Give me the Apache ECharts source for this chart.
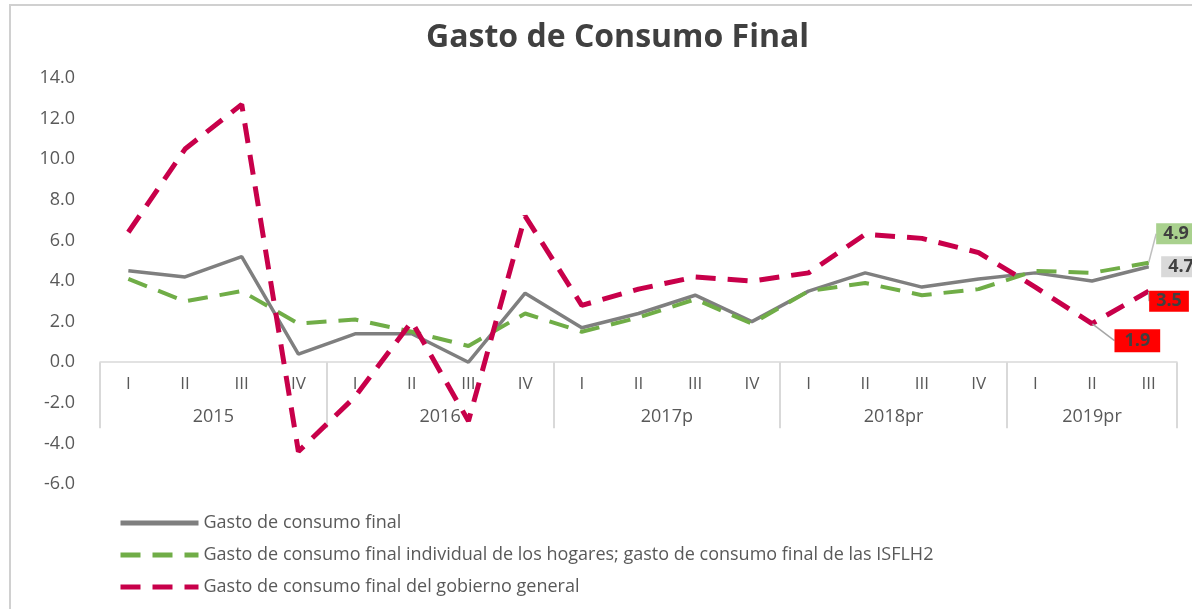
<!DOCTYPE html>
<html>
<head>
<meta charset="utf-8">
<title>Gasto de Consumo Final</title>
<script src="https://cdn.jsdelivr.net/npm/echarts@6/dist/echarts.min.js"></script>
<style>
    html, body { margin: 0; padding: 0; background: #fff; }
    #chart { width: 1192px; height: 609px; }
</style>
</head>
<body>
<div id="chart"></div>
<script>
// trimestres y años del eje
var quarters = ['I', 'II', 'III', 'IV', 'I', 'II', 'III', 'IV', 'I', 'II', 'III', 'IV',
    'I', 'II', 'III', 'IV', 'I', 'II', 'III'];
var years = ['2015', '2016', '2017p', '2018pr', '2019pr'];
var yearQuarters = [4, 4, 4, 4, 3];

var seriesNames = [
    'Gasto de consumo final',
    'Gasto de consumo final individual de los hogares; gasto de consumo final de las ISFLH2',
    'Gasto de consumo final del gobierno general'
];
// variación anual (%)
var gastoTotal = [4.5, 4.2, 5.2, 0.4, 1.4, 1.4, 0.0, 3.4, 1.7, 2.4, 3.3, 2.0, 3.5, 4.4, 3.7, 4.1, 4.4, 4.0, 4.7];
var gastoHogares = [4.1, 3.0, 3.5, 1.9, 2.1, 1.5, 0.8, 2.4, 1.5, 2.2, 3.1, 1.9, 3.5, 3.9, 3.3, 3.6, 4.5, 4.4, 4.9];
var gastoGobierno = [6.4, 10.5, 12.7, -4.4, -1.7, 2.0, -2.9, 7.2, 2.8, 3.6, 4.2, 4.0, 4.4, 6.3, 6.1, 5.4, 3.7, 1.9, 3.5];

var yTicks = [-6, 14, 2];

var FONT = '"Open Sans", sans-serif';
var TXT = '#595959';
var GRID = { left: 100, right: 15, top: 78, bottom: 125 };
// el eje x va sobre el cero: distancia del fondo del grid a y=0
var zeroOffset = -(609 - GRID.top - GRID.bottom) * (0 - yTicks[0]) / (yTicks[1] - yTicks[0]);

// separadores y centros de cada año en unidades de trimestre
var sepValues = [0];
var yearCenters = [];
var acc = 0;
for (var i = 0; i < yearQuarters.length; i++) {
    yearCenters.push(acc + yearQuarters[i] / 2);
    acc += yearQuarters[i];
    sepValues.push(acc);
}

function withLabels(values, labelled, labelStyle) {
    return values.map(function (v, i) {
        if (labelled.indexOf(i) < 0) return v;
        return {
            value: v,
            symbol: 'circle',
            symbolSize: 1,
            label: Object.assign({ show: true }, labelStyle(i))
        };
    });
}

var boxText = {
    formatter: function (p) { return Number(p.value).toFixed(1); },
    fontFamily: FONT,
    fontSize: 18,
    fontWeight: 'bold',
    color: '#404040',
    padding: [2, 7, 1, 7]
};

var last = quarters.length - 1;

var option = {
    animation: false,
    backgroundColor: '#fff',
    title: {
        text: 'Gasto de Consumo Final',
        left: 421,
        top: 17,
        textStyle: { fontFamily: FONT, fontSize: 32, fontWeight: 'bold', color: '#404040' }
    },
    graphic: [{
        type: 'rect',
        shape: { x: 10, y: 5, width: 1300, height: 700 },
        style: { fill: 'none', stroke: '#d0d0d0', lineWidth: 2 },
        silent: true
    }],
    legend: {
        orient: 'vertical',
        left: 113,
        top: 509,
        itemWidth: 78,
        itemHeight: 14,
        itemGap: 14,
        icon: 'inherit',
        itemStyle: { opacity: 0 },
        lineStyle: { width: 5 },
        data: seriesNames,
        textStyle: { fontFamily: FONT, fontSize: 18, color: TXT }
    },
    grid: [
        Object.assign({}, GRID),
        Object.assign({}, GRID)
    ],
    xAxis: [{
        type: 'category',
        gridIndex: 0,
        data: quarters,
        offset: zeroOffset,
        axisLine: { onZero: false, lineStyle: { color: '#d9d9d9', width: 1.5 } },
        axisTick: { show: false },
        axisLabel: { margin: 13, fontFamily: FONT, fontSize: 17, color: TXT, interval: 0 },
        splitLine: { show: false }
    }, {
        type: 'value',
        gridIndex: 1,
        min: 0,
        max: quarters.length,
        offset: zeroOffset,
        axisLine: { show: false, onZero: false },
        axisTick: {
            show: true,
            customValues: sepValues,
            length: 66,
            lineStyle: { color: '#d9d9d9', width: 2 }
        },
        axisLabel: {
            customValues: yearCenters,
            margin: 46,
            fontFamily: FONT,
            fontSize: 18,
            color: TXT,
            formatter: function (v) {
                var k = yearCenters.indexOf(v);
                return k >= 0 ? years[k] : '';
            }
        },
        splitLine: { show: false }
    }],
    yAxis: [{
        type: 'value',
        gridIndex: 0,
        min: yTicks[0],
        max: yTicks[1],
        interval: yTicks[2],
        axisLine: { show: false },
        axisTick: { show: false },
        splitLine: { show: false },
        axisLabel: {
            margin: 25,
            fontFamily: FONT,
            fontSize: 18,
            color: TXT,
            formatter: function (v) { return v.toFixed(1); }
        }
    }, {
        type: 'value',
        gridIndex: 1,
        min: yTicks[0],
        max: yTicks[1],
        show: false
    }],
    series: [{
        name: seriesNames[0],
        type: 'line',
        symbol: 'none',
        z: 3,
        lineStyle: { color: '#7f7f7f', width: 3.5 },
        itemStyle: { color: '#7f7f7f' },
        data: withLabels(gastoTotal, [last], function () {
            return Object.assign({}, boxText, { position: 'right', distance: 12, backgroundColor: '#d9d9d9' });
        })
    }, {
        name: seriesNames[1],
        type: 'line',
        symbol: 'none',
        z: 4,
        lineStyle: { color: '#70ad47', width: 4, type: [20, 12] },
        itemStyle: { color: '#70ad47' },
        data: withLabels(gastoHogares, [last], function () {
            return Object.assign({}, boxText, { position: 'right', distance: 7, backgroundColor: '#a9d18e' });
        }),
        labelLayout: function () { return { dy: -29 }; },
        labelLine: { show: true, lineStyle: { color: '#bfbfbf', width: 1.5 } }
    }, {
        name: seriesNames[2],
        type: 'line',
        symbol: 'none',
        z: 5,
        lineStyle: { color: '#c8004a', width: 5, type: [20, 12] },
        itemStyle: { color: '#c8004a' },
        data: withLabels(gastoGobierno, [last - 1, last], function (i) {
            return Object.assign({}, boxText, {
                position: 'right',
                distance: i === last ? 0 : 22,
                backgroundColor: '#ff0000',
                padding: i === last ? [2, 7, 1, 7] : [3, 10, 2, 10]
            });
        }),
        labelLayout: function (p) {
            return p.dataIndex === last ? { dy: 10 } : { dy: 17 };
        },
        labelLine: { show: true, lineStyle: { color: '#a6a6a6', width: 1.5 } }
    }]
};

var myChart = echarts.init(document.getElementById('chart'));
myChart.setOption(option);
</script>
</body>
</html>
